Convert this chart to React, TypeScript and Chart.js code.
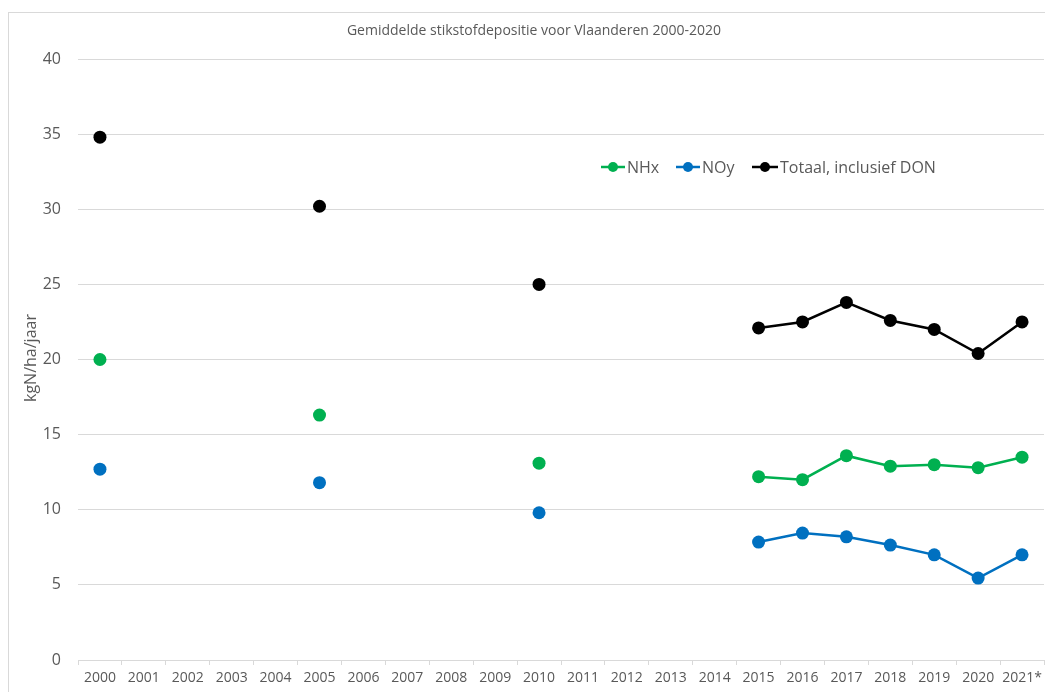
import React, { useEffect, useRef } from "react";
import { Chart, registerables } from "chart.js";

Chart.register(...registerables);

const years = ["2000","2001","2002","2003","2004","2005","2006","2007","2008","2009","2010","2011","2012","2013","2014","2015","2016","2017","2018","2019","2020","2021*"];
const nhx = [20.0,null,null,null,null,16.3,null,null,null,null,13.1,null,null,null,null,12.2,12.0,13.6,12.9,13.0,12.8,13.5];
const noy = [12.7,null,null,null,null,11.8,null,null,null,null,9.8,null,null,null,null,7.85,8.45,8.2,7.65,7.0,5.45,7.0];
const totaal = [34.8,null,null,null,null,30.2,null,null,null,null,25.0,null,null,null,null,22.1,22.5,23.8,22.6,22.0,20.4,22.5];
const seriesNames = ["NHx", "NOy", "Totaal, inclusief DON"];
const seriesColors = ["#00b050", "#0070c0", "#000000"];
const titleText = "Gemiddelde stikstofdepositie voor Vlaanderen 2000-2020";
const yTitle = "kgN/ha/jaar";

const FONT = "'Open Sans', 'Liberation Sans', sans-serif";

export default function App() {
  const ref = useRef<HTMLCanvasElement>(null);
  useEffect(() => {
    const canvas = ref.current!;
    const overlay = {
      id: "overlay",
      afterDraw(chart: any) {
        const ctx = chart.ctx;
        ctx.save();
        // title
        ctx.fillStyle = "#595959";
        ctx.font = `14px ${FONT}`;
        ctx.textAlign = "center";
        ctx.textBaseline = "middle";
        ctx.fillText(titleText, 534, 31);
        // y title
        ctx.save();
        ctx.translate(31, 358);
        ctx.rotate(-Math.PI / 2);
        ctx.font = `16px ${FONT}`;
        ctx.fillText(yTitle, 0, 0);
        ctx.restore();
        // legend
        const items = [
          { x1: 601, x2: 625, tx: 627 },
          { x1: 676, x2: 700, tx: 702 },
          { x1: 752, x2: 778, tx: 780 },
        ];
        const ly = 167;
        ctx.font = `16px ${FONT}`;
        ctx.textAlign = "left";
        items.forEach((it, i) => {
          ctx.strokeStyle = seriesColors[i];
          ctx.lineWidth = 2.5;
          ctx.beginPath();
          ctx.moveTo(it.x1, ly);
          ctx.lineTo(it.x2, ly);
          ctx.stroke();
          ctx.fillStyle = seriesColors[i];
          ctx.beginPath();
          ctx.arc((it.x1 + it.x2) / 2, ly, 5, 0, Math.PI * 2);
          ctx.fill();
          ctx.fillStyle = "#595959";
          ctx.fillText(seriesNames[i], it.tx, ly + 1);
        });
        ctx.restore();
      },
    };
    const mk = (i: number, data: (number | null)[]) => ({
      label: seriesNames[i],
      data,
      borderColor: seriesColors[i],
      backgroundColor: seriesColors[i],
      borderWidth: 2.5,
      pointRadius: 6.5,
      pointHoverRadius: 6.5,
      pointBorderWidth: 0,
      spanGaps: false,
      tension: 0,
      clip: false as any,
    });
    const chart = new Chart(canvas, {
      type: "line",
      data: {
        labels: years,
        datasets: [mk(0, nhx), mk(1, noy), mk(2, totaal)],
      },
      options: {
        responsive: false,
        animation: false,
        layout: { autoPadding: false, padding: { top: 59, right: 1, left: 0, bottom: 0 } },
        plugins: { legend: { display: false }, title: { display: false }, tooltip: { enabled: false } },
        scales: {
          x: {
            offset: true,
            grid: { display: true, drawOnChartArea: false, drawTicks: true, tickLength: 5, color: "#d9d9d9", offset: true },
            border: { display: true, color: "#d9d9d9", width: 1 },
            ticks: { color: "#595959", font: { family: FONT, size: 14 }, padding: 5, maxRotation: 0, autoSkip: false },
            afterFit: (s: any) => { s.height = 32; s.paddingLeft = 0; s.paddingRight = 0; },
          },
          y: {
            min: 0,
            max: 40,
            ticks: { stepSize: 5, color: "#595959", font: { family: FONT, size: 16 }, padding: 17 },
            grid: { color: "#d9d9d9", drawTicks: false, lineWidth: 1 },
            border: { display: false },
            afterFit: (s: any) => { s.width = 78; s.paddingTop = 0; s.paddingBottom = 0; },
          },
        },
      },
      plugins: [overlay],
    });
    return () => chart.destroy();
  }, []);
  return (
    <div style={{ position: "absolute", left: 0, top: 0, width: 1045, height: 692, background: "#fff", overflow: "hidden" }}>
      <div style={{ position: "absolute", left: 8, top: 12, width: 1100, height: 760, border: "1px solid #d9d9d9" }} />
      <canvas ref={ref} width={1045} height={692} style={{ position: "absolute", left: 0, top: 0, display: "block" }} />
    </div>
  );
}
